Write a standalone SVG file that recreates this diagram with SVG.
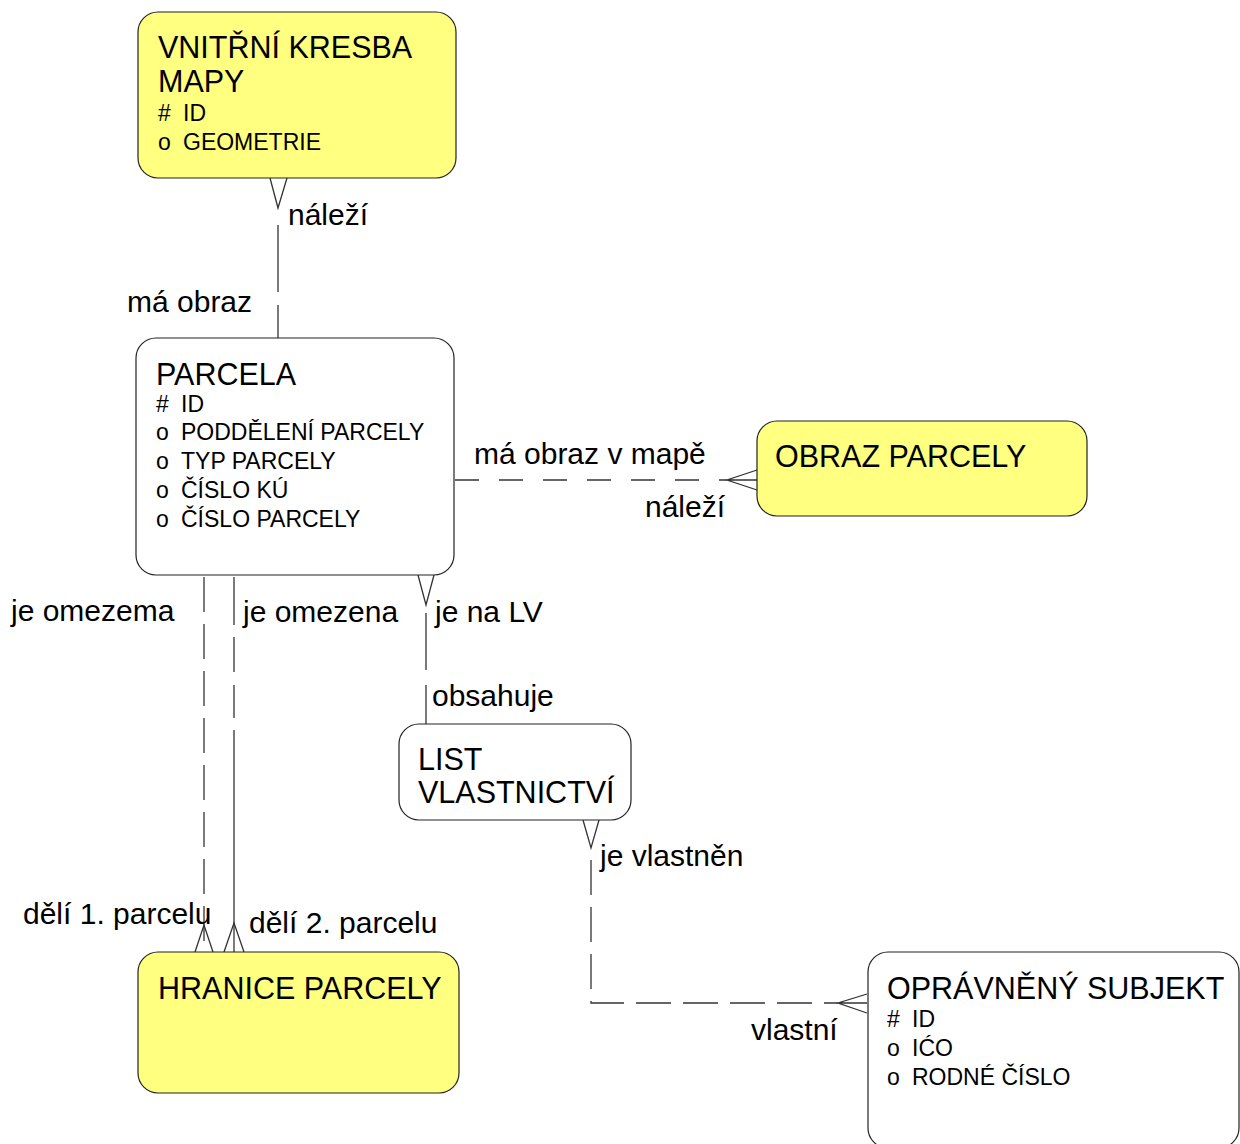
<svg xmlns="http://www.w3.org/2000/svg" width="1240" height="1144" viewBox="0 0 1240 1144">
<style>
.box{stroke:#222;stroke-width:1.2}
.y{fill:#ffff80}
.w{fill:#ffffff}
text{font-family:"Liberation Sans",Arial,sans-serif;fill:#000}
.t{font-size:30.5px}
.a{font-size:23px}
.l{font-size:30px}
.c{stroke:#333;stroke-width:1.3;fill:none}
.d{stroke-dasharray:35 12}
</style>
<rect width="1240" height="1144" fill="#ffffff"/>
<g id="connectors">
  <path class="c" d="M270,178 L278,208 L287,178"/>
  <line class="c" x1="278" y1="225" x2="278" y2="292"/>
  <line class="c" x1="278" y1="305" x2="278" y2="338"/>
  <line class="c" x1="455" y1="480" x2="727" y2="480" style="stroke-dasharray:24 20"/>
  <path class="c" d="M757,470 L727,480 L757,490 M727,480 L757,480"/>
  <path class="c" d="M418,575 L426,605 L434,575"/>
  <line class="c" x1="426" y1="613" x2="426" y2="670"/>
  <line class="c" x1="426" y1="685" x2="426" y2="724"/>
  <line class="c d" x1="204" y1="577" x2="204" y2="952"/>
  <path class="c" d="M195,952 L204,925 L213,952"/>
  <line class="c" x1="234" y1="577" x2="234" y2="625"/>
  <line class="c" x1="234" y1="637" x2="234" y2="672"/>
  <line class="c" x1="234" y1="685" x2="234" y2="718"/>
  <line class="c" x1="234" y1="730" x2="234" y2="952"/>
  <path class="c" d="M224,952 L234,923 L244,952"/>
  <path class="c" d="M583,820 L591,848 L599,820"/>
  <path class="c d" d="M591,860 L591,1003 L838,1003"/>
  <path class="c" d="M867,994 L838,1003 L867,1013 M838,1003 L867,1003"/>
</g>
<g id="labels">
  <text class="l" x="288" y="225">náleží</text>
  <text class="l" x="127" y="312">má obraz</text>
  <text class="l" x="474" y="464">má obraz v mapě</text>
  <text class="l" x="645" y="517">náleží</text>
  <text class="l" x="11" y="621">je omezema</text>
  <text class="l" x="243" y="622">je omezena</text>
  <text class="l" x="435" y="622">je na LV</text>
  <text class="l" x="432" y="706">obsahuje</text>
  <text class="l" x="600" y="866">je vlastněn</text>
  <text class="l" x="23" y="924">dělí 1. parcelu</text>
  <text class="l" x="249" y="933">dělí 2. parcelu</text>
  <text class="l" x="751" y="1040">vlastní</text>
</g>
<g id="vnitrni-kresba-mapy">
  <rect class="box y" x="138" y="12" width="318" height="166" rx="20"/>
  <text class="t" x="158" y="58">VNITŘNÍ KRESBA</text>
  <text class="t" x="158" y="92">MAPY</text>
  <text class="a" x="158" y="121">#</text><text class="a" x="183" y="121">ID</text>
  <text class="a" x="158" y="150">o</text><text class="a" x="183" y="150">GEOMETRIE</text>
</g>
<g id="parcela">
  <rect class="box w" x="136" y="338" width="318" height="237" rx="20"/>
  <text class="t" x="156" y="385">PARCELA</text>
  <text class="a" x="156" y="412">#</text><text class="a" x="181" y="412">ID</text>
  <text class="a" x="156" y="440">o</text><text class="a" x="181" y="440">PODDĚLENÍ PARCELY</text>
  <text class="a" x="156" y="469">o</text><text class="a" x="181" y="469">TYP PARCELY</text>
  <text class="a" x="156" y="498">o</text><text class="a" x="181" y="498">ČÍSLO KÚ</text>
  <text class="a" x="156" y="527">o</text><text class="a" x="181" y="527">ČÍSLO PARCELY</text>
</g>
<g id="obraz-parcely">
  <rect class="box y" x="757" y="421" width="330" height="95" rx="20"/>
  <text class="t" x="775" y="467">OBRAZ PARCELY</text>
</g>
<g id="list-vlastnictvi">
  <rect class="box w" x="399" y="724" width="232" height="96" rx="20"/>
  <text class="t" x="418" y="770">LIST</text>
  <text class="t" x="418" y="803">VLASTNICTVÍ</text>
</g>
<g id="hranice-parcely">
  <rect class="box y" x="138" y="952" width="321" height="141" rx="20"/>
  <text class="t" x="158" y="999">HRANICE PARCELY</text>
</g>
<g id="opravneny-subjekt">
  <rect class="box w" x="868" y="952" width="371" height="196" rx="20"/>
  <text class="t" x="887" y="999">OPRÁVNĚNÝ SUBJEKT</text>
  <text class="a" x="887" y="1027">#</text><text class="a" x="912" y="1027">ID</text>
  <text class="a" x="887" y="1056">o</text><text class="a" x="912" y="1056">IĆO</text>
  <text class="a" x="887" y="1085">o</text><text class="a" x="912" y="1085">RODNÉ ČÍSLO</text>
</g>
</svg>
